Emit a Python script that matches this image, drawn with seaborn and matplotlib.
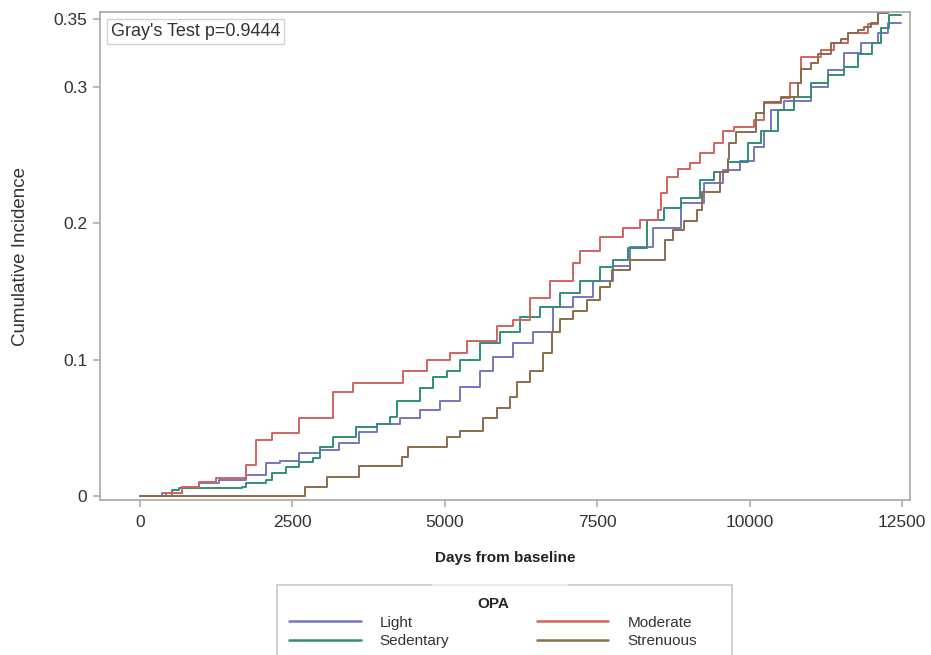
import pandas as pd
import matplotlib.pyplot as plt
import seaborn as sns
from matplotlib.patches import Rectangle
from matplotlib.lines import Line2D

# valores (dias, incidencia acumulada)
light_dias = [0, 360, 690, 970, 1300, 1740, 2070, 2290, 2615, 2945, 3270, 3600, 3880, 4260, 4590,
              4920, 5250, 5575, 5790, 6120, 6450, 6780, 7105, 7435, 7765, 8040, 8420, 8870, 9250,
              9570, 9850, 10070, 10230, 10350, 10560, 11000, 11280, 11550, 11830, 12100, 12270, 12480]
light_cif = [0, 0.002, 0.0066, 0.0095, 0.0117, 0.0154, 0.024, 0.026, 0.0315, 0.034, 0.039, 0.047,
             0.053, 0.057, 0.063, 0.070, 0.080, 0.092, 0.102, 0.112, 0.120, 0.139, 0.146, 0.158,
             0.169, 0.183, 0.197, 0.215, 0.230, 0.239, 0.246, 0.256, 0.268, 0.283, 0.290, 0.300,
             0.3125, 0.325, 0.332, 0.340, 0.347, 0.347]

sed_dias = [0, 530, 640, 1680, 1740, 2070, 2170, 2400, 2615, 2830, 2945, 3160, 3550, 3880, 4095,
            4210, 4590, 4800, 5030, 5250, 5575, 5905, 6230, 6560, 6890, 7220, 7550, 7765, 8000,
            8320, 8600, 8870, 9190, 9410, 9640, 9970, 10180, 10460, 10730, 11000, 11280, 11550,
            11780, 12000, 12150, 12290, 12480]
sed_cif = [0, 0.0044, 0.0059, 0.0066, 0.0095, 0.0117, 0.0169, 0.0213, 0.025, 0.028, 0.036, 0.043,
           0.0506, 0.053, 0.058, 0.070, 0.079, 0.087, 0.092, 0.100, 0.112, 0.120, 0.131, 0.139,
           0.149, 0.158, 0.168, 0.173, 0.182, 0.2025, 0.211, 0.219, 0.232, 0.238, 0.245, 0.259,
           0.268, 0.283, 0.293, 0.303, 0.309, 0.315, 0.324, 0.332, 0.343, 0.353, 0.353]

mod_dias = [0, 430, 690, 970, 1250, 1740, 1900, 2170, 2615, 3160, 3490, 4310, 4700, 5080, 5360,
            5855, 6120, 6400, 6730, 7105, 7220, 7550, 7930, 8210, 8490, 8540, 8650, 8820, 9030,
            9190, 9410, 9570, 9740, 10070, 10230, 10510, 10670, 10840, 11170, 11380, 11610,
            11940, 12100, 12270]
mod_cif = [0, 0.002, 0.0066, 0.0103, 0.013, 0.023, 0.041, 0.046, 0.057, 0.076, 0.083, 0.092, 0.100,
           0.105, 0.114, 0.125, 0.129, 0.145, 0.158, 0.171, 0.180, 0.190, 0.197, 0.2025, 0.210,
           0.222, 0.234, 0.240, 0.244, 0.252, 0.259, 0.268, 0.271, 0.276, 0.288, 0.292, 0.303,
           0.322, 0.327, 0.332, 0.340, 0.346, 0.354, 0.354]

stren_dias = [0, 2700, 3060, 3600, 4290, 4390, 5030, 5250, 5625, 5855, 6070, 6180, 6400, 6610,
              6760, 6890, 7105, 7330, 7550, 7710, 7750, 8040, 8620, 8750, 8920, 9140, 9225, 9520,
              9640, 9660, 9770, 10100, 10230, 10510, 10790, 10840, 11000, 11120, 11330, 11500,
              11610, 11780, 11880, 11990, 12100, 12270]
stren_cif = [0, 0.0066, 0.014, 0.022, 0.0286, 0.036, 0.0433, 0.048, 0.057, 0.0646, 0.073, 0.084,
             0.092, 0.105, 0.120, 0.130, 0.136, 0.144, 0.153, 0.158, 0.166, 0.173, 0.188, 0.195,
             0.202, 0.210, 0.223, 0.238, 0.247, 0.259, 0.267, 0.281, 0.289, 0.293, 0.303, 0.313,
             0.318, 0.324, 0.332, 0.335, 0.340, 0.342, 0.344, 0.347, 0.354, 0.354]

grupos = ['Light', 'Sedentary', 'Moderate', 'Strenuous']
xticks = [0, 2500, 5000, 7500, 10000, 12500]
yticks = [0, 0.1, 0.2, 0.3, 0.35]
ytick_labels = ['0', '0.1', '0.2', '0.3', '0.35']
texto_teste = "Gray's Test p=0.9444"

#cores
cores = {'Light': '#7575c2', 'Sedentary': '#2f8f78', 'Moderate': '#d2635f', 'Strenuous': '#8c6c4a'}
cinza_eixo = '#a8a8a8'
cor_texto = '#333333'

partes = []
for nome, d, c in [('Light', light_dias, light_cif), ('Sedentary', sed_dias, sed_cif),
                   ('Moderate', mod_dias, mod_cif), ('Strenuous', stren_dias, stren_cif)]:
    partes.append(pd.DataFrame({'dias': d, 'cif': c, 'OPA': nome}))
df = pd.concat(partes, ignore_index=True)

sns.set_style('white')
plt.rcParams['font.family'] = ['Liberation Sans', 'DejaVu Sans']

fig = plt.figure(figsize=(9.31, 6.55), dpi=100)
ax = fig.add_axes([100 / 931, 1 - 500 / 655, 810 / 931, 488 / 655])

sns.lineplot(data=df, x='dias', y='cif', hue='OPA', hue_order=grupos, palette=cores,
             estimator=None, drawstyle='steps-post', linewidth=1.4, ax=ax, legend=False)

ax.set_xlim(-656, 12631)
ax.set_ylim(-0.0029, 0.3551)
ax.set_xticks(xticks)
ax.set_xticklabels([str(t) for t in xticks])
ax.set_yticks(yticks)
ax.set_yticklabels(ytick_labels)

for s in ax.spines.values():
    s.set_color(cinza_eixo)
    s.set_linewidth(1.2)

ax.tick_params(axis='both', direction='out', length=5, width=1.1, color=cinza_eixo,
               labelcolor=cor_texto, labelsize=12.5)
ax.tick_params(axis='x', pad=6)
ax.tick_params(axis='y', pad=4)
ax.xaxis.set_ticks_position('bottom')
ax.yaxis.set_ticks_position('left')

ax.set_xlabel('Days from baseline', fontsize=11, fontweight='bold', color='#222222', labelpad=15)
ax.set_ylabel('Cumulative Incidence', fontsize=13.5, color=cor_texto, labelpad=18)

ax.text(0.013, 0.978, texto_teste, transform=ax.transAxes, ha='left', va='top', fontsize=13,
        color=cor_texto,
        bbox=dict(boxstyle='square,pad=0.22', facecolor='white', edgecolor='#d4d4d4', linewidth=1))

# legenda embaixo
handles = [Line2D([0], [0], color=cores[g], linewidth=1.8) for g in grupos]
leg = fig.legend(handles, grupos, loc='upper center', bbox_to_anchor=(493 / 931, 1 - 597 / 655),
                 ncol=2, title='OPA', frameon=False, fontsize=11, handlelength=4.7,
                 handletextpad=1.24, columnspacing=5.7, labelspacing=0.3, borderpad=0,
                 borderaxespad=0)
leg.get_title().set_fontweight('bold')
leg.get_title().set_fontsize(11)
for t in leg.get_texts():
    t.set_color(cor_texto)

fig.patches.append(Rectangle((277 / 931, 1 - 670 / 655), 455 / 931, 85 / 655,
                             transform=fig.transFigure, facecolor='none',
                             edgecolor='#c8c8c8', linewidth=1.2))
fig.lines.append(Line2D([433 / 931, 567 / 931], [1 - 585 / 655, 1 - 585 / 655],
                        transform=fig.transFigure, color='#ececec', linewidth=1.4))

fig.savefig('out.png', dpi=100)
